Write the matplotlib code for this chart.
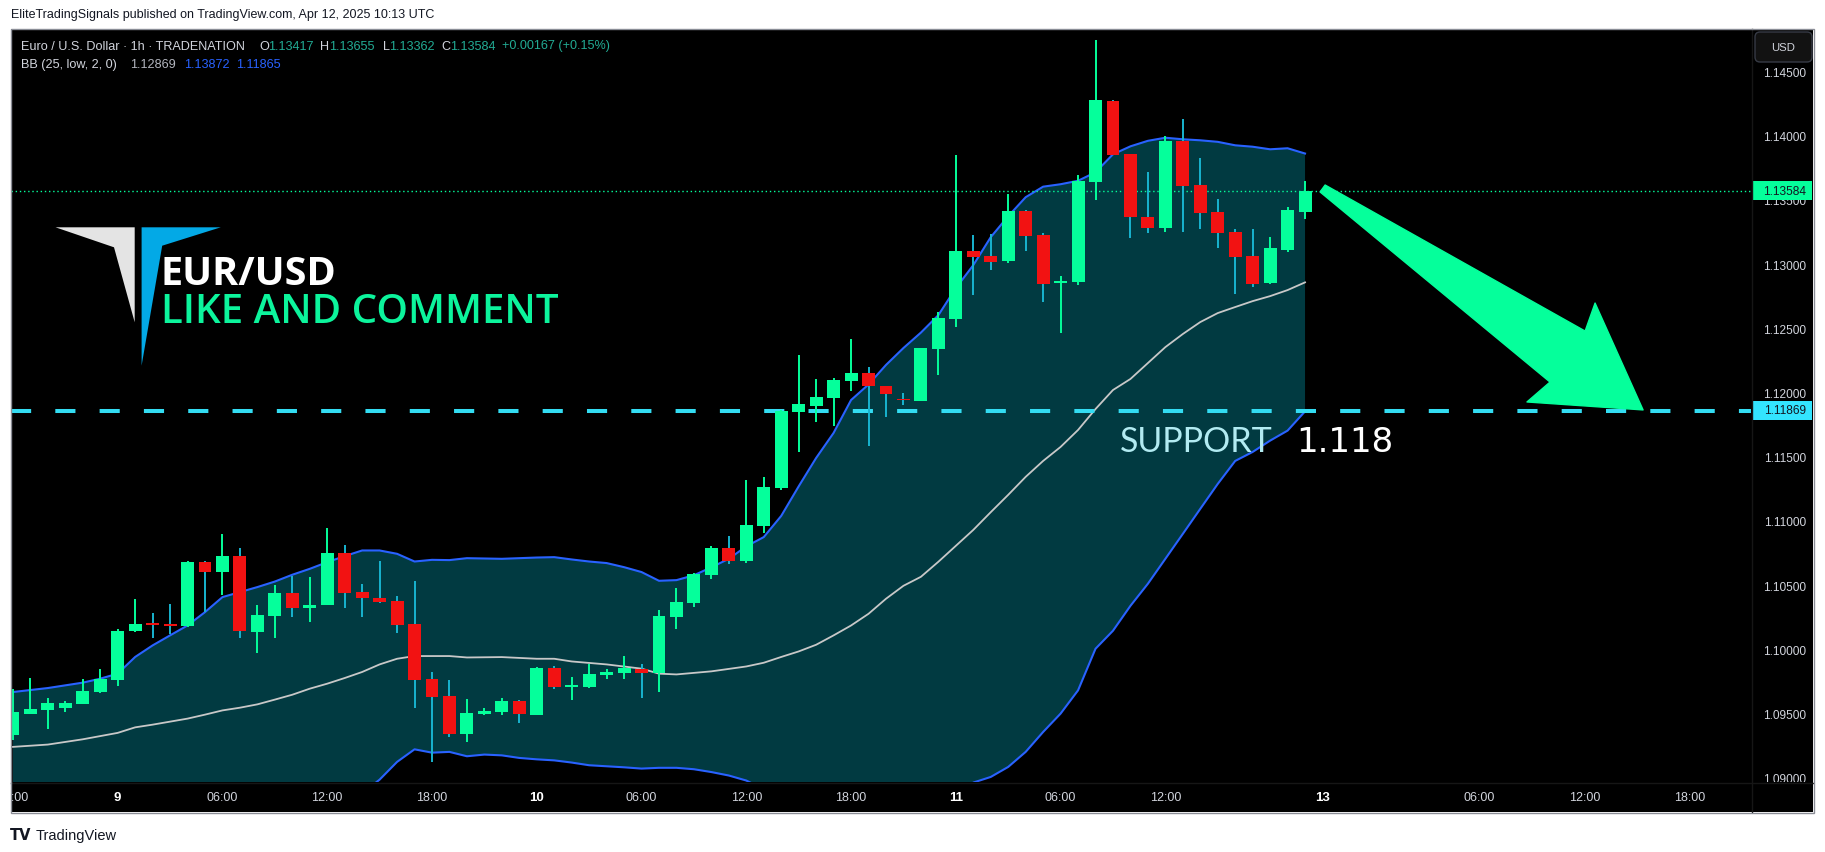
import numpy as np
import matplotlib
matplotlib.use('Agg')
import matplotlib.pyplot as plt
from matplotlib.patches import Polygon, Rectangle, FancyBboxPatch
from matplotlib.transforms import IdentityTransform

W, H, DPI = 1825, 853, 100

# ---------------- data ----------------
bar_index = list(range(-6, 69))
opens = [1.09343, 1.09512, 1.09537, 1.09558, 1.09589, 1.09683, 1.09776, 1.10157, 1.10212, 1.10204,
         1.10196, 1.10694, 1.10616, 1.10740, 1.10149, 1.10274, 1.10453, 1.10336, 1.10359, 1.10764,
         1.10460, 1.10414, 1.10390, 1.10212, 1.09784, 1.09652, 1.09356, 1.09512, 1.09527, 1.09613,
         1.09504, 1.09869, 1.09722, 1.09722, 1.09815, 1.09831, 1.09862, 1.09831, 1.10266, 1.10375,
         1.10593, 1.10802, 1.10701, 1.10974, 1.11269, 1.11860, 1.11907, 1.11969, 1.12101, 1.12163,
         1.12062, 1.11961, 1.11946, 1.12350, 1.12583, 1.13112, 1.13073, 1.13034, 1.13423, 1.13236,
         1.12863, 1.12871, 1.13649, 1.14278, 1.13866, 1.13376, 1.13291, 1.13967, 1.13625, 1.13415,
         1.13260, 1.13073, 1.12863, 1.13120, 1.13417]
highs = [1.09706, 1.09792, 1.09636, 1.09607, 1.09784, 1.09862, 1.10173, 1.10406, 1.10297, 1.10367,
         1.10701, 1.10700, 1.10911, 1.10802, 1.10359, 1.10515, 1.10585, 1.10577, 1.10958, 1.10826,
         1.10523, 1.10701, 1.10429, 1.10546, 1.09838, 1.09776, 1.09628, 1.09558, 1.09636, 1.09621,
         1.09877, 1.09885, 1.09799, 1.09900, 1.09862, 1.09963, 1.09900, 1.10320, 1.10491, 1.10608,
         1.10818, 1.10896, 1.11331, 1.11355, 1.11876, 1.12303, 1.12117, 1.12124, 1.12428, 1.12210,
         1.12062, 1.12008, 1.12358, 1.12638, 1.13858, 1.13236, 1.13244, 1.13555, 1.13430, 1.13252,
         1.12918, 1.13703, 1.14753, 1.14286, 1.13866, 1.13726, 1.14006, 1.14138, 1.13835, 1.13516,
         1.13283, 1.13283, 1.13221, 1.13454, 1.13655]
lows = [1.09304, 1.09512, 1.09395, 1.09522, 1.09589, 1.09675, 1.09724, 1.10149, 1.10103, 1.10134,
        1.10190, 1.10302, 1.10437, 1.10103, 1.09986, 1.10103, 1.10266, 1.10227, 1.10355, 1.10336,
        1.10266, 1.10375, 1.10142, 1.09558, 1.09138, 1.09333, 1.09294, 1.09504, 1.09504, 1.09442,
        1.09504, 1.09706, 1.09621, 1.09714, 1.09784, 1.09784, 1.09636, 1.09683, 1.10173, 1.10344,
        1.10561, 1.10678, 1.10686, 1.10919, 1.11253, 1.11549, 1.11782, 1.11751, 1.12023, 1.11596,
        1.11821, 1.11914, 1.11946, 1.12148, 1.12521, 1.12770, 1.12964, 1.13020, 1.13112, 1.12715,
        1.12474, 1.12848, 1.13509, 1.13858, 1.13213, 1.13252, 1.13260, 1.13260, 1.13283, 1.13135,
        1.12778, 1.12832, 1.12855, 1.13104, 1.13362]
closes = [1.09525, 1.09551, 1.09597, 1.09597, 1.09691, 1.09784, 1.10157, 1.10212, 1.10204, 1.10196,
          1.10694, 1.10616, 1.10740, 1.10157, 1.10282, 1.10453, 1.10336, 1.10359, 1.10764, 1.10453,
          1.10414, 1.10383, 1.10204, 1.09776, 1.09644, 1.09356, 1.09519, 1.09535, 1.09613, 1.09512,
          1.09869, 1.09722, 1.09730, 1.09823, 1.09838, 1.09869, 1.09831, 1.10274, 1.10383, 1.10600,
          1.10802, 1.10701, 1.10981, 1.11277, 1.11868, 1.11922, 1.11977, 1.12109, 1.12163, 1.12062,
          1.12000, 1.11953, 1.12358, 1.12591, 1.13112, 1.13065, 1.13026, 1.13423, 1.13229, 1.12855,
          1.12879, 1.13656, 1.14286, 1.13858, 1.13376, 1.13291, 1.13967, 1.13617, 1.13407, 1.13252,
          1.13065, 1.12855, 1.13135, 1.13431, 1.13584]

bb_upper_idx = [-6, -4, -2, -1, 0, 1, 2, 3, 4, 5, 6, 7, 8, 9, 10, 11, 12, 13, 14, 15, 16, 17, 18, 19, 20,
                22, 24, 25, 26, 27, 28, 29, 30, 31, 32, 33, 34, 35, 36, 37, 38, 39, 40, 41, 42, 43, 44,
                45, 46, 47, 48, 49, 50, 51, 52, 53, 54, 55, 56, 57, 58, 59, 60, 61, 62, 63, 64, 65, 66,
                67, 68]
bb_upper = [1.09680, 1.09711, 1.09753, 1.09784, 1.09823, 1.09953, 1.10043, 1.10121, 1.10198, 1.10302,
            1.10419, 1.10458, 1.10497, 1.10540, 1.10593, 1.10639, 1.10691, 1.10738, 1.10782, 1.10782,
            1.10756, 1.10696, 1.10709, 1.10707, 1.10722, 1.10717, 1.10727, 1.10730, 1.10712, 1.10696,
            1.10684, 1.10652, 1.10614, 1.10546, 1.10551, 1.10589, 1.10651, 1.10717, 1.10814, 1.10886,
            1.11051, 1.11281, 1.11502, 1.11697, 1.11953, 1.12074, 1.12226, 1.12358, 1.12478, 1.12614,
            1.12824, 1.13003, 1.13221, 1.13384, 1.13532, 1.13614, 1.13633, 1.13660, 1.13726, 1.13866,
            1.13928, 1.13971, 1.13995, 1.13983, 1.13975, 1.13963, 1.13936, 1.13925, 1.13905, 1.13913,
            1.13872]
bb_mid_idx = [-6, -4, -2, 0, 1, 2, 4, 5, 6, 7, 8, 9, 10, 11, 12, 13, 14, 15, 16, 17, 19, 20, 22, 24, 25,
              26, 28, 30, 31, 32, 34, 36, 37, 38, 39, 40, 41, 42, 43, 44, 45, 46, 47, 48, 49, 50, 51, 52,
              53, 54, 55, 56, 57, 58, 59, 60, 61, 62, 63, 64, 65, 66, 67, 68]
bb_mid = [1.09253, 1.09271, 1.09312, 1.09362, 1.09405, 1.09426, 1.09473, 1.09504, 1.09537, 1.09558,
          1.09584, 1.09621, 1.09659, 1.09706, 1.09745, 1.09789, 1.09836, 1.09895, 1.09939, 1.09960,
          1.09960, 1.09949, 1.09952, 1.09939, 1.09939, 1.09918, 1.09895, 1.09862, 1.09823, 1.09817,
          1.09841, 1.09879, 1.09908, 1.09953, 1.09996, 1.10048, 1.10121, 1.10198, 1.10289, 1.10406,
          1.10507, 1.10577, 1.10694, 1.10818, 1.10942, 1.11080, 1.11215, 1.11355, 1.11479, 1.11588,
          1.11720, 1.11883, 1.12031, 1.12117, 1.12241, 1.12365, 1.12467, 1.12560, 1.12630, 1.12677,
          1.12723, 1.12762, 1.12809, 1.12869]
bb_lower_idx = [-6, -2, 0, 4, 8, 12, 14, 15, 16, 17, 18, 19, 20, 21, 22, 23, 24, 25, 26, 27, 28, 29, 30,
                31, 32, 33, 34, 35, 36, 38, 40, 42, 44, 46, 48, 49, 50, 51, 52, 53, 54, 55, 56, 57, 58,
                59, 60, 61, 62, 63, 64, 65, 66, 67, 68]
bb_lower = [1.08827, 1.08874, 1.08905, 1.08747, 1.08672, 1.08799, 1.08890, 1.08998, 1.09136, 1.09234,
            1.09208, 1.09214, 1.09180, 1.09193, 1.09187, 1.09167, 1.09156, 1.09148, 1.09131, 1.09110,
            1.09102, 1.09094, 1.09084, 1.09090, 1.09090, 1.09079, 1.09057, 1.09030, 1.08991, 1.08854,
            1.08594, 1.08446, 1.08586, 1.08676, 1.08812, 1.08975, 1.09019, 1.09097, 1.09214, 1.09369,
            1.09512, 1.09693, 1.10017, 1.10157, 1.10351, 1.10523, 1.10717, 1.10911, 1.11106, 1.11300,
            1.11479, 1.11549, 1.11637, 1.11715, 1.11865]

support_level = 1.11869
last_price = 1.13584
price_ticks = [1.090, 1.095, 1.100, 1.105, 1.110, 1.115, 1.120, 1.125, 1.130, 1.135, 1.140, 1.145]
time_tick_idx = [-6, 0, 6, 12, 18, 24, 30, 36, 42, 48, 54, 60, 69, 78, 84, 90]
time_tick_labels = ['18:00', '9', '06:00', '12:00', '18:00', '10', '06:00', '12:00', '18:00',
                    '11', '06:00', '12:00', '13', '06:00', '12:00', '18:00']
day_labels = ['9', '10', '11', '13']

# ---------------- styling ----------------
GREEN = '#05ff9b'
RED = '#f21212'
WICK_CYAN = '#18b4cf'
FILL = '#013a41'
BLUE = '#2962ff'
MIDC = '#c8c8c8'
SUPPORT_C = '#33dcf2'
AXIS_TXT = '#d1d4dc'
FONT = ['Liberation Sans', 'DejaVu Sans']

XLIM = (-6.11, 93.54)
YLIM = (1.089796, 1.148414)

fig = plt.figure(figsize=(W / DPI, H / DPI), dpi=DPI, facecolor='white')


def fx(x):
    return x / W


def fy(y):
    return 1 - y / H


# black chart background
fig.add_artist(Rectangle((fx(11), fy(813)), (1813 - 11) / W, (813 - 30) / H,
                         transform=fig.transFigure, facecolor='black', edgecolor='none', zorder=0))

ax = fig.add_axes([fx(11), fy(783), 1740 / W, 753 / H])
ax.set_facecolor('black')
ax.set_xlim(*XLIM)
ax.set_ylim(*YLIM)
ax.set_xticks([])
ax.set_yticks([])
for s in ax.spines.values():
    s.set_visible(False)

# Bollinger band fill and lines
poly_x = list(bb_upper_idx) + list(bb_lower_idx)[::-1]
poly_y = list(bb_upper) + list(bb_lower)[::-1]
ax.fill(poly_x, poly_y, color=FILL, lw=0, zorder=1)
ax.plot(bb_upper_idx, bb_upper, color=BLUE, lw=1.5, zorder=2)
ax.plot(bb_lower_idx, bb_lower, color=BLUE, lw=1.5, zorder=2)
ax.plot(bb_mid_idx, bb_mid, color=MIDC, lw=1.3, zorder=2)

# last price dotted line
ax.axhline(last_price, color=GREEN, lw=1.0, linestyle=(0, (1, 2)), zorder=2.5)

# support dashed line
ax.axhline(support_level, color=SUPPORT_C, lw=2.9, linestyle=(0, (5, 6)),
           dash_capstyle='butt', zorder=2.6)

# candles
o = np.array(opens)
h = np.array(highs)
l = np.array(lows)
c = np.array(closes)
xi = np.array(bar_index)
up = c >= o
body_col = np.where(up, GREEN, RED)
wick_col = np.where(up, GREEN, WICK_CYAN)
ax.vlines(xi, l, h, colors=wick_col, lw=1.4, zorder=3)
body_h = np.maximum(np.abs(c - o), 0.00010)
body_b = np.minimum(o, c)
ax.bar(xi, body_h, bottom=body_b, width=0.74, color=body_col, lw=0, zorder=4)

# big arrow (annotation)
arrow_pts = [(69.15, 1.13627), (84.04, 1.12490), (84.61, 1.12708), (87.36, 1.11876),
             (80.71, 1.11938), (82.03, 1.12093), (68.86, 1.13573)]
ax.add_patch(Polygon(arrow_pts, closed=True, facecolor=GREEN, edgecolor=GREEN, lw=1, zorder=6,
                     joinstyle='round'))

# ---------------- price scale ----------------
axr = fig.add_axes([fx(1751), fy(783), 62 / W, 753 / H])
axr.set_facecolor('black')
axr.set_xlim(0, 1)
axr.set_ylim(*YLIM)
axr.set_xticks([])
axr.set_yticks([])
for s in axr.spines.values():
    s.set_visible(False)
for t in price_ticks:
    axr.text(0.89, t, f'{t:.5f}', ha='right', va='center', color=AXIS_TXT, fontsize=8.6,
             family=FONT, clip_on=True, zorder=2)
box_h = 19 / 12846
axr.add_patch(Rectangle((0.016, last_price - box_h / 2), 0.968, box_h, facecolor=GREEN,
                        edgecolor='none', zorder=5))
axr.text(0.89, last_price, f'{last_price:.5f}', ha='right', va='center', color='#131722',
         fontsize=8.6, family=FONT, zorder=6)
axr.add_patch(Rectangle((0.016, support_level + 0.00005 - box_h / 2), 0.968, box_h,
                        facecolor='#33e4ff', edgecolor='none', zorder=5))
axr.text(0.89, support_level + 0.00005, f'{support_level:.5f}', ha='right', va='center',
         color='#131722', fontsize=8.6, family=FONT, zorder=6)

# ---------------- time scale ----------------
axt = fig.add_axes([fx(11), fy(813), 1740 / W, 30 / H])
axt.set_facecolor('black')
axt.set_xlim(*XLIM)
axt.set_ylim(0, 1)
axt.set_xticks([])
axt.set_yticks([])
for s in axt.spines.values():
    s.set_visible(False)
for i, lab in zip(time_tick_idx, time_tick_labels):
    bold = lab in day_labels
    axt.text(i, 0.5, lab, ha='center', va='center', color='white' if bold else AXIS_TXT,
             fontsize=9.5 if bold else 9, fontweight='bold' if bold else 'normal',
             family=FONT, clip_on=True)

# separators and border
fig.add_artist(plt.Line2D([fx(11), fx(1813)], [fy(783.5), fy(783.5)], transform=fig.transFigure,
                          color='#161616', lw=1, zorder=10))
fig.add_artist(plt.Line2D([fx(1751.5), fx(1751.5)], [fy(30), fy(813)], transform=fig.transFigure,
                          color='#161616', lw=1, zorder=10))
fig.add_artist(Rectangle((fx(10.5), fy(813.5)), (1813.5 - 10.5) / W, (813.5 - 29.5) / H,
                         transform=fig.transFigure, fill=False, edgecolor='#8a8d96', lw=1, zorder=11))

# USD box
fig.add_artist(FancyBboxPatch((1755, H - 63), 57, 30, boxstyle='round,pad=0,rounding_size=5',
                              transform=IdentityTransform(), facecolor='#121212',
                              edgecolor='#363a45', lw=1, zorder=12))
fig.text(fx(1783.5), fy(48), 'USD', ha='center', va='center', color=AXIS_TXT, fontsize=8.2,
         family=FONT, zorder=13)

# ---------------- header texts ----------------
fig.text(fx(11), fy(15), 'EliteTradingSignals published on TradingView.com, Apr 12, 2025 10:13 UTC',
         ha='left', va='center', color='#131722', fontsize=9, family=FONT)

LG = '#22ab94'
leg1 = [(20.6, 'Euro / U.S. Dollar · 1h · TRADENATION', AXIS_TXT),
        (259, 'O', AXIS_TXT), (268.5, '1.13417', LG),
        (320, 'H', AXIS_TXT), (329.5, '1.13655', LG),
        (383, 'L', AXIS_TXT), (389.5, '1.13362', LG),
        (441, 'C', AXIS_TXT), (450.5, '1.13584', LG),
        (502, '+0.00167 (+0.15%)', LG)]
for x, s, col in leg1:
    fig.text(fx(x), fy(46.5), s, ha='left', va='center', color=col, fontsize=9.1, family=FONT,
             zorder=14)
leg2 = [(20.6, 'BB (25, low, 2, 0)', AXIS_TXT), (130.5, '1.12869', '#b2b5be'),
        (183.9, '1.13872', BLUE), (236.5, '1.11865', BLUE)]
for x, s, col in leg2:
    fig.text(fx(x), fy(65), s, ha='left', va='center', color=col, fontsize=9.1, family=FONT,
             zorder=14)

# ---------------- logo + titles ----------------
grey_tri = [(55.5, 228.3), (134.7, 228.3), (134.7, 323.3), (114, 248.3)]
blue_tri = [(141.6, 228.3), (220.8, 228.3), (162.2, 246.7), (141.6, 366.7)]
fig.add_artist(Polygon([(fx(x), fy(y)) for x, y in grey_tri], closed=True, transform=fig.transFigure,
                       facecolor='#e4e4e4', edgecolor='none', zorder=15))
fig.add_artist(Polygon([(fx(x), fy(y)) for x, y in blue_tri], closed=True, transform=fig.transFigure,
                       facecolor='#03a9e6', edgecolor='none', zorder=15))
fig.text(fx(161), fy(285), 'EUR/USD', ha='left', va='baseline', color='white', fontsize=28.5,
         fontweight='bold', family=['Open Sans', 'DejaVu Sans'], zorder=16)
fig.text(fx(161), fy(323.3), 'LIKE AND COMMENT', ha='left', va='baseline', color='#0cf49c',
         fontsize=29, fontweight='semibold', family=['Open Sans', 'DejaVu Sans'], zorder=16)

# support text
fig.text(fx(1120), fy(451.7), 'SUPPORT', ha='left', va='baseline', color='#b2ebf2', fontsize=24.5,
         family=['Lato', 'DejaVu Sans'], zorder=16)
fig.text(fx(1296), fy(451.7), '1.118', ha='left', va='baseline', color='white', fontsize=24.5,
         family=['DejaVu Sans'], zorder=16)

# footer
fig.text(fx(10), fy(836), 'TV', ha='left', va='center', color='#131722', fontsize=10.5,
         fontweight='heavy', family=['DejaVu Sans'])
fig.text(fx(36), fy(836), 'TradingView', ha='left', va='center', color='#131722', fontsize=10.5,
         family=FONT)

fig.savefig('out.png', dpi=DPI, facecolor='white')
